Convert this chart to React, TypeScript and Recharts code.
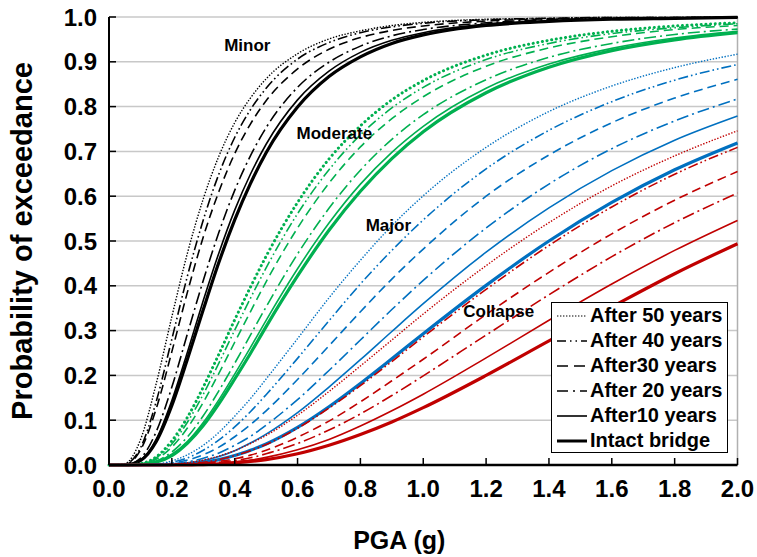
import React from 'react';
import {
  LineChart,
  Line,
  XAxis,
  YAxis,
  CartesianGrid,
  ReferenceLine,
  ReferenceDot,
  Label,
} from 'recharts';

// PGA grid (g) shared by every curve
const pga = [0, 0.05, 0.1, 0.15, 0.2, 0.25, 0.3, 0.35, 0.4, 0.45, 0.5, 0.6, 0.7, 0.8, 0.9, 1.0, 1.2, 1.4, 1.6, 1.8, 2.0];

// Minor damage state
const minor50 = [0, 0.003, 0.056, 0.181, 0.331, 0.474, 0.594, 0.69, 0.764, 0.819, 0.862, 0.918, 0.951, 0.969, 0.981, 0.988, 0.995, 0.997, 0.999, 0.999, 1.0];
const minor40 = [0, 0.002, 0.038, 0.141, 0.281, 0.423, 0.547, 0.65, 0.731, 0.793, 0.841, 0.906, 0.943, 0.965, 0.978, 0.986, 0.994, 0.997, 0.999, 0.999, 1.0];
const minor30 = [0, 0.001, 0.033, 0.125, 0.253, 0.387, 0.509, 0.611, 0.695, 0.761, 0.813, 0.884, 0.928, 0.954, 0.97, 0.98, 0.991, 0.996, 0.998, 0.999, 0.999];
const minor20 = [0, 0, 0.015, 0.074, 0.174, 0.294, 0.412, 0.52, 0.613, 0.69, 0.753, 0.843, 0.899, 0.935, 0.958, 0.972, 0.987, 0.994, 0.997, 0.998, 0.999];
const minor10 = [0, 0, 0.011, 0.057, 0.144, 0.253, 0.367, 0.474, 0.569, 0.649, 0.716, 0.815, 0.879, 0.921, 0.948, 0.965, 0.984, 0.992, 0.996, 0.998, 0.999];
const minorIntact = [0, 0, 0.01, 0.052, 0.133, 0.237, 0.347, 0.453, 0.547, 0.628, 0.697, 0.799, 0.867, 0.911, 0.941, 0.96, 0.981, 0.99, 0.995, 0.997, 0.999];

// Moderate damage state
const moderate50 = [0, 0, 0.003, 0.018, 0.054, 0.107, 0.174, 0.248, 0.324, 0.397, 0.466, 0.586, 0.683, 0.757, 0.815, 0.858, 0.915, 0.948, 0.968, 0.98, 0.987];
const moderate40 = [0, 0, 0.002, 0.016, 0.047, 0.096, 0.158, 0.228, 0.301, 0.372, 0.44, 0.561, 0.659, 0.737, 0.797, 0.843, 0.905, 0.941, 0.963, 0.976, 0.985];
const moderate30 = [0, 0, 0.002, 0.013, 0.04, 0.083, 0.14, 0.205, 0.274, 0.342, 0.409, 0.529, 0.629, 0.71, 0.773, 0.822, 0.89, 0.931, 0.956, 0.972, 0.981];
const moderate20 = [0, 0, 0.001, 0.009, 0.029, 0.063, 0.11, 0.166, 0.227, 0.29, 0.353, 0.471, 0.573, 0.658, 0.727, 0.782, 0.86, 0.91, 0.941, 0.961, 0.973];
const moderate10 = [0, 0, 0.001, 0.007, 0.024, 0.053, 0.095, 0.146, 0.203, 0.262, 0.323, 0.438, 0.54, 0.627, 0.698, 0.756, 0.841, 0.895, 0.93, 0.953, 0.968];
const moderateIntact = [0, 0, 0.001, 0.006, 0.021, 0.049, 0.088, 0.137, 0.192, 0.249, 0.309, 0.422, 0.524, 0.611, 0.684, 0.744, 0.831, 0.888, 0.925, 0.949, 0.965];

// Major damage state
const major50 = [0, 0, 0, 0.002, 0.009, 0.023, 0.044, 0.073, 0.109, 0.148, 0.192, 0.282, 0.373, 0.457, 0.534, 0.601, 0.709, 0.789, 0.846, 0.887, 0.917];
const major40 = [0, 0, 0, 0.002, 0.006, 0.016, 0.033, 0.056, 0.085, 0.119, 0.157, 0.238, 0.322, 0.404, 0.479, 0.547, 0.661, 0.747, 0.811, 0.859, 0.894];
const major30 = [0, 0, 0, 0.001, 0.004, 0.011, 0.023, 0.04, 0.063, 0.09, 0.121, 0.191, 0.266, 0.342, 0.415, 0.482, 0.6, 0.692, 0.764, 0.819, 0.861];
const major20 = [0, 0, 0, 0, 0.002, 0.007, 0.015, 0.027, 0.044, 0.064, 0.089, 0.146, 0.211, 0.279, 0.347, 0.412, 0.529, 0.627, 0.706, 0.768, 0.817];
const major10 = [0, 0, 0, 0, 0.002, 0.005, 0.01, 0.019, 0.032, 0.049, 0.069, 0.117, 0.174, 0.235, 0.298, 0.36, 0.475, 0.574, 0.657, 0.725, 0.779];
const majorIntact = [0, 0, 0, 0, 0.001, 0.003, 0.006, 0.012, 0.021, 0.033, 0.047, 0.084, 0.13, 0.182, 0.237, 0.293, 0.401, 0.5, 0.586, 0.659, 0.719];

// Collapse damage state
const collapse50 = [0, 0, 0, 0, 0.002, 0.005, 0.011, 0.02, 0.032, 0.048, 0.066, 0.111, 0.164, 0.221, 0.279, 0.337, 0.445, 0.541, 0.623, 0.69, 0.746];
const collapse40 = [0, 0, 0, 0, 0.001, 0.003, 0.006, 0.012, 0.021, 0.032, 0.046, 0.082, 0.127, 0.177, 0.231, 0.286, 0.392, 0.49, 0.576, 0.649, 0.709];
const collapse30 = [0, 0, 0, 0, 0, 0.002, 0.004, 0.008, 0.014, 0.022, 0.033, 0.062, 0.098, 0.141, 0.188, 0.236, 0.336, 0.43, 0.516, 0.591, 0.655];
const collapse20 = [0, 0, 0, 0, 0, 0.001, 0.003, 0.006, 0.01, 0.016, 0.025, 0.048, 0.078, 0.114, 0.155, 0.199, 0.29, 0.38, 0.465, 0.541, 0.607];
const collapse10 = [0, 0, 0, 0, 0, 0.001, 0.002, 0.004, 0.007, 0.011, 0.017, 0.034, 0.057, 0.087, 0.121, 0.158, 0.239, 0.323, 0.404, 0.479, 0.546];
const collapseIntact = [0, 0, 0, 0, 0, 0, 0.001, 0.002, 0.005, 0.008, 0.012, 0.025, 0.044, 0.068, 0.096, 0.128, 0.2, 0.277, 0.353, 0.427, 0.494];

const conditions = ['After 50 years', 'After 40 years', 'After30 years', 'After 20 years', 'After10 years', 'Intact bridge'];
const states = ['Minor', 'Moderate', 'Major', 'Collapse'];
const stateValues = [
  [minor50, minor40, minor30, minor20, minor10, minorIntact],
  [moderate50, moderate40, moderate30, moderate20, moderate10, moderateIntact],
  [major50, major40, major30, major20, major10, majorIntact],
  [collapse50, collapse40, collapse30, collapse20, collapse10, collapseIntact],
];
// where each damage-state name is written (pga, probability)
const stateLabelX = [0.44, 0.717, 0.889, 1.24];
const stateLabelY = [0.937, 0.741, 0.536, 0.344];

const xTicks = [0, 0.2, 0.4, 0.6, 0.8, 1.0, 1.2, 1.4, 1.6, 1.8, 2.0];
const yTicks = [0, 0.1, 0.2, 0.3, 0.4, 0.5, 0.6, 0.7, 0.8, 0.9, 1.0];

const FONT = "'Liberation Sans', Arial, Helvetica, sans-serif";
const stateColors = ['#000000', '#00b050', '#0070c0', '#c00000'];

// line look for each bridge condition
const conditionStyles = [
  { dash: '1.4 1.6', width: 1.4, cap: 'butt' },
  { dash: '10 3 1.6 3 1.6 3', width: 1.6, cap: 'butt' },
  { dash: '9 5', width: 1.6, cap: 'butt' },
  { dash: '12 4 2 4', width: 1.6, cap: 'butt' },
  { dash: undefined, width: 1.6, cap: 'butt' },
  { dash: undefined, width: 3.2, cap: 'butt' },
];

const series = states.flatMap((state, si) =>
  conditions.map((cond, ci) => {
    const base = conditionStyles[ci];
    const greenDots = si === 1 && ci === 0;
    return {
      key: `${state}_${ci}`,
      values: stateValues[si][ci],
      color: stateColors[si],
      dash: greenDots ? '0.1 4.6' : base.dash,
      width: greenDots ? 3 : base.width,
      cap: greenDots ? 'round' : base.cap,
    };
  }),
);

const chartData = pga.map((x, i) => {
  const row: Record<string, number> = { pga: x };
  series.forEach((s) => {
    row[s.key] = s.values[i];
  });
  return row;
});

const legendSamples = [
  { dash: '1.4 1.6', width: 1.2 },
  { dash: '9 4 1.5 4 1.5 4', width: 1.6 },
  { dash: '11 6', width: 1.6 },
  { dash: '11 5 2 5', width: 1.6 },
  { dash: undefined, width: 1.6 },
  { dash: undefined, width: 3 },
];

function LegendBox() {
  return (
    <div
      style={{
        position: 'absolute',
        left: 551,
        top: 302,
        width: 175,
        height: 149,
        border: '1.5px solid #000',
        background: '#fff',
        fontFamily: FONT,
        fontWeight: 700,
        fontSize: 20,
      }}
    >
      {conditions.map((c, i) => (
        <div key={c} style={{ height: 25, display: 'flex', alignItems: 'center' }}>
          <svg width={38} height={25} style={{ display: 'block' }}>
            <line
              x1={5}
              x2={35}
              y1={13}
              y2={13}
              stroke="#000"
              strokeWidth={legendSamples[i].width}
              strokeDasharray={legendSamples[i].dash}
            />
          </svg>
          <span style={{ lineHeight: '25px', whiteSpace: 'nowrap' }}>{c}</span>
        </div>
      ))}
    </div>
  );
}

export default function App() {
  return (
    <div style={{ position: 'absolute', left: 0, top: 0, width: 757, height: 557, background: '#fff' }}>
      <LineChart
        width={757}
        height={557}
        data={chartData}
        margin={{ top: 17, right: 19.5, bottom: 0, left: 0 }}
      >
        <CartesianGrid horizontal vertical={false} stroke="#c8c8c8" strokeWidth={1.5} />
        <ReferenceLine x={2} stroke="#b0b0b0" strokeWidth={1.5} />
        <XAxis
          dataKey="pga"
          type="number"
          domain={[0, 2]}
          ticks={xTicks}
          interval={0}
          tickFormatter={(v: number) => v.toFixed(1)}
          height={92}
          tickSize={-7}
          tickMargin={22}
          axisLine={{ stroke: '#000', strokeWidth: 2.5 }}
          tickLine={{ stroke: '#000', strokeWidth: 1.5 }}
          tick={{ fill: '#000', fontSize: 24, fontWeight: 700, fontFamily: FONT }}
        >
          <Label
            content={({ viewBox }: any) => (
              <text
                x={viewBox.x + viewBox.width / 2 - 24}
                y={viewBox.y + 84}
                textAnchor="middle"
                fill="#000"
                fontSize={25}
                fontWeight={700}
                fontFamily={FONT}
              >
                PGA (g)
              </text>
            )}
          />
        </XAxis>
        <YAxis
          type="number"
          domain={[0, 1]}
          ticks={yTicks}
          interval={0}
          tickFormatter={(v: number) => v.toFixed(1)}
          width={109}
          tickSize={-7}
          tickMargin={19}
          axisLine={{ stroke: '#000', strokeWidth: 2 }}
          tickLine={{ stroke: '#000', strokeWidth: 1.5 }}
          tick={{ fill: '#000', fontSize: 24, fontWeight: 700, fontFamily: FONT }}
        >
          <Label
            content={({ viewBox }: any) => {
              const cx = viewBox.x + 32;
              const cy = viewBox.y + viewBox.height / 2;
              return (
                <text
                  x={cx}
                  y={cy}
                  transform={`rotate(-90 ${cx} ${cy})`}
                  textAnchor="middle"
                  fill="#000"
                  fontSize={29}
                  fontWeight={700}
                  fontFamily={FONT}
                >
                  Probability of exceedance
                </text>
              );
            }}
          />
        </YAxis>
        {series.map((s) => (
          <Line
            key={s.key}
            dataKey={s.key}
            type="monotone"
            stroke={s.color}
            strokeWidth={s.width}
            strokeDasharray={s.dash}
            strokeLinecap={s.cap as any}
            dot={false}
            activeDot={false}
            isAnimationActive={false}
          />
        ))}
        {states.map((st, i) => (
          <ReferenceDot
            key={st}
            x={stateLabelX[i]}
            y={stateLabelY[i]}
            r={0}
            stroke="none"
            fill="none"
            label={{
              value: st,
              position: 'center',
              fill: '#000',
              fontSize: 17,
              fontWeight: 700,
              fontFamily: FONT,
            }}
          />
        ))}
      </LineChart>
      <LegendBox />
    </div>
  );
}
